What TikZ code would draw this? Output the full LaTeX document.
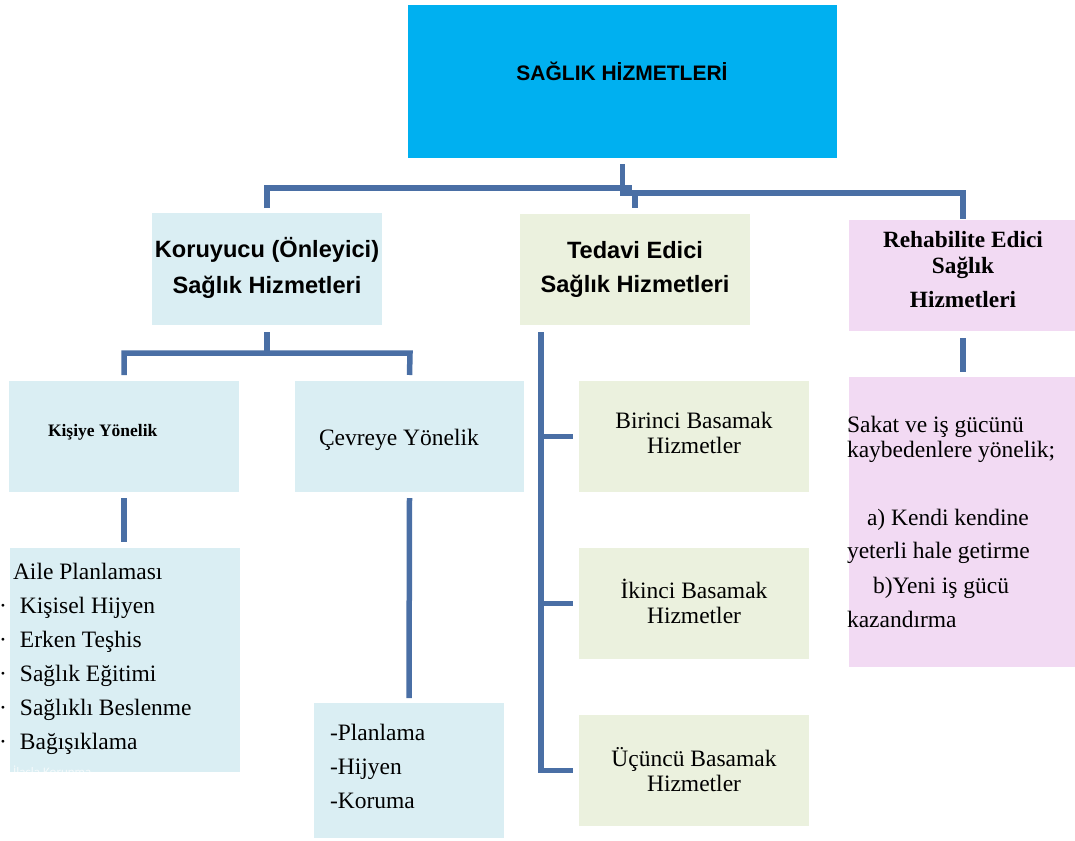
\documentclass[tikz,border=0pt]{standalone}
\usepackage{fontspec}
\setmainfont{Liberation Serif}
\newfontfamily\headfont{Liberation Sans}
\newfontfamily\notefont{Carlito}
\usetikzlibrary{calc}

\definecolor{topblue}{HTML}{00B0F0}
\definecolor{paleblue}{HTML}{DAEEF3}
\definecolor{palegreen}{HTML}{EBF1DE}
\definecolor{palepink}{HTML}{F2DAF3}
\definecolor{linkblue}{HTML}{4A6FA5}

\tikzset{
  box/.style={rectangle, inner sep=0pt, outer sep=0pt},
  link/.style={draw=linkblue, line width=5.5pt, line cap=butt, line join=miter},
  txt/.style={inner sep=0pt, outer sep=0pt, anchor=base},
  txtl/.style={inner sep=0pt, outer sep=0pt, anchor=base west},
  bodyfont/.style={font=\fontsize{23.5}{34}\selectfont},
  headfont/.style={font=\headfont\bfseries\fontsize{23.6}{37}\selectfont},
  titlefont/.style={font=\headfont\bfseries\fontsize{21}{25}\selectfont},
  boldserif/.style={font=\bfseries\fontsize{23.3}{28}\selectfont},
}

\begin{document}
\begin{tikzpicture}[x=1pt,y=-1pt]
\useasboundingbox (0,0) rectangle (1075,840);

% ---- boxes ----
\node[box, fill=topblue,   minimum width=429pt, minimum height=153pt] (top) at (622.5,81.5) {};
\node[box, fill=paleblue,  minimum width=230pt, minimum height=112pt] (kor) at (267,269) {};
\node[box, fill=palegreen, minimum width=230pt, minimum height=111pt] (ted) at (635,269.5) {};
\node[box, fill=palepink,  minimum width=228pt, minimum height=111pt] (reh) at (963,275.5) {};

\node[box, fill=paleblue,  minimum width=230pt, minimum height=111pt] (kis) at (124,436.5) {};
\node[box, fill=paleblue,  minimum width=229pt, minimum height=111pt] (cev) at (409.5,436.5) {};
\node[box, fill=paleblue,  minimum width=230pt, minimum height=224pt] (aile) at (125,660) {};
\node[box, fill=paleblue,  minimum width=190pt, minimum height=135pt] (plan) at (409,770.5) {};

\node[box, fill=palegreen, minimum width=230pt, minimum height=111pt] (bir) at (694,436.5) {};
\node[box, fill=palegreen, minimum width=230pt, minimum height=111pt] (iki) at (694,603.5) {};
\node[box, fill=palegreen, minimum width=230pt, minimum height=111pt] (ucu) at (694,770.5) {};

\node[box, fill=palepink,  minimum width=228pt, minimum height=290pt] (sak) at (963,522) {};

% ---- connectors ----
\coordinate (busL) at (629,188);
\coordinate (busR) at (963,193);
\coordinate (busK) at (410,353);
\coordinate (spine) at (541,0);

\draw[link] ([yshift=-6pt]top.south) |- (busR) -- ([yshift=1pt]reh.north);
\draw[link] ([yshift=5pt]kor.north) |- (busL) -- ++(0,5);
\draw[link] (ted.north |- busR) -- ([yshift=6pt]ted.north);

\draw[link] ([yshift=-7pt]kor.south) -- (kor.south |- busK);
\draw[link] ([yshift=6pt]kis.north) |- (busK) -- ([yshift=6pt]cev.north);

\draw[link] ([yshift=-6pt]kis.south) -- ([yshift=6pt]kis.south |- aile.north);
\draw[link] ([yshift=-6pt]cev.south) -- ([yshift=5pt]plan.north);

\draw[link] ($(ted.south -| spine)+(0,7)$) |- ([xshift=-6pt]ucu.west);
\draw[link] (spine |- bir.west) -- ([xshift=-6pt]bir.west);
\draw[link] (spine |- iki.west) -- ([xshift=-6pt]iki.west);

\draw[link] ([yshift=-7pt]reh.south) -- ([yshift=5pt]sak.north);

% ---- texts ----
\node[txt, titlefont] (topT) at (622,81) {SAĞLIK HİZMETLERİ};

\node[txt, headfont] (korT1) at (267,257) {Koruyucu (Önleyici)};
\node[txt, headfont] (korT2) at (267,293) {Sağlık Hizmetleri};

\node[txt, headfont] (tedT1) at (635,258) {Tedavi Edici};
\node[txt, headfont] (tedT2) at (635,292) {Sağlık Hizmetleri};

\node[txt, boldserif] (rehT1) at (963,247) {Rehabilite Edici};
\node[txt, boldserif] (rehT2) at (963,273) {Sağlık};
\node[txt, boldserif] (rehT3) at (963,307) {Hizmetleri};

\node[txtl, font=\bfseries\fontsize{17.5}{20}\selectfont] (kisT) at (48,436) {Kişiye Yönelik};
\node[txtl, bodyfont] (cevT) at (319,445) {Çevreye Yönelik};

\node[txtl, bodyfont] (aile1) at (13,579) {Aile Planlaması};
\node[txtl, bodyfont] (aile2) at (-1,613) {\makebox[21pt][l]{·}Kişisel Hijyen};
\node[txtl, bodyfont] (aile3) at (-1,647) {\makebox[21pt][l]{·}Erken Teşhis};
\node[txtl, bodyfont] (aile4) at (-1,681) {\makebox[21pt][l]{·}Sağlık Eğitimi};
\node[txtl, bodyfont] (aile5) at (-1,715) {\makebox[21pt][l]{·}Sağlıklı Beslenme};
\node[txtl, bodyfont] (aile6) at (-1,749) {\makebox[21pt][l]{·}Bağışıklama};
\begin{scope}
  \clip (aile.north west) rectangle (aile.south east);
  \node[txtl, font=\notefont\fontsize{13}{15}\selectfont, text=white, text opacity=0.7] (aile7) at (13,776) {İlaçla Korunma};
\end{scope}

\node[txtl, bodyfont] (plan1) at (330,740) {-Planlama};
\node[txtl, bodyfont] (plan2) at (330,774) {-Hijyen};
\node[txtl, bodyfont] (plan3) at (330,808) {-Koruma};

\node[txt, bodyfont] (birT1) at (694,428) {Birinci Basamak};
\node[txt, bodyfont] (birT2) at (694,453) {Hizmetler};
\node[txt, bodyfont] (ikiT1) at (694,598) {İkinci Basamak};
\node[txt, bodyfont] (ikiT2) at (694,623) {Hizmetler};
\node[txt, bodyfont] (ucuT1) at (694,766) {Üçüncü Basamak};
\node[txt, bodyfont] (ucuT2) at (694,791) {Hizmetler};

\node[txtl, bodyfont] (sak1) at (847,432) {Sakat ve iş gücünü};
\node[txtl, bodyfont] (sak2) at (847,457) {kaybedenlere yönelik;};
\node[txtl, bodyfont] (sak3) at (867,525) {a) Kendi kendine};
\node[txtl, bodyfont] (sak4) at (847,558) {yeterli hale getirme};
\node[txtl, bodyfont] (sak5) at (873,593) {b)Yeni iş gücü};
\node[txtl, bodyfont] (sak6) at (847,627) {kazandırma};
\end{tikzpicture}
\end{document}
